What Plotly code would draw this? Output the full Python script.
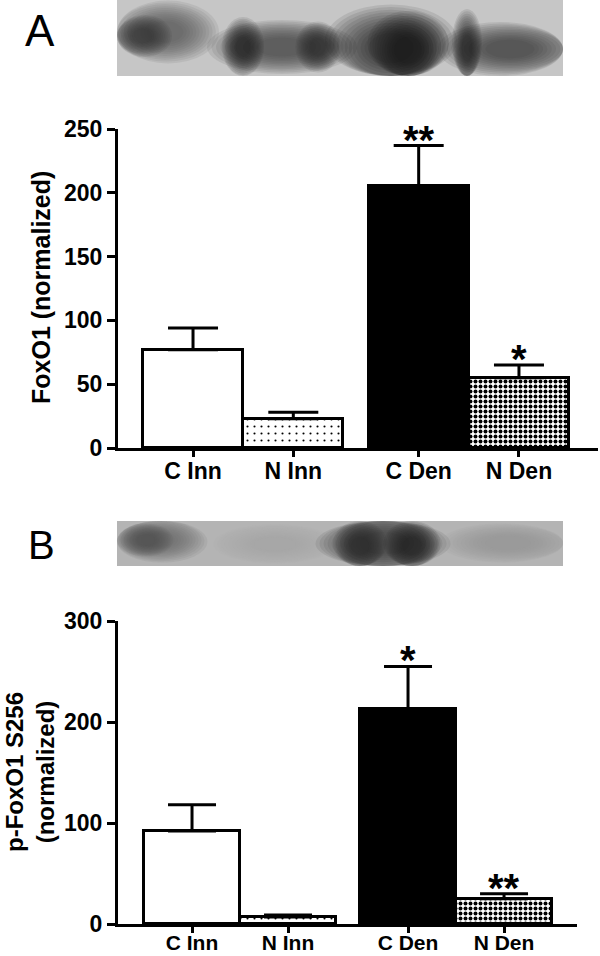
import plotly.graph_objects as go

W, H = 600, 956

categories = ["C Inn", "N Inn", "C Den", "N Den"]
x_pos = [0, 1, 2.25, 3.25]

# panel A: total FoxO1
foxo1_mean = [77, 23, 205, 55]
foxo1_sem = [17, 5, 32, 10]
foxo1_stars = ["", "", "**", "*"]

# panel B: p-FoxO1 S256
pfoxo1_mean = [92, 7, 213, 25]
pfoxo1_sem = [26, 2, 42, 5]
pfoxo1_stars = ["", "", "*", "**"]

FONT = "Liberation Sans, Arial, sans-serif"

# per-group fill: colour, pattern shape, pattern size, solidity
fills = [("white", "", 8, 0.1),
         ("white", ".", 7, 0.07),
         ("black", "", 8, 0.1),
         ("white", ".", 5, 0.5)]


def px(x):
    return x / W


def py(y):
    return 1 - y / H


def blot_shapes(box, bg, bands):
    """fake western blot: grey strip with soft dark bands"""
    x0, y0, x1, y1 = box
    out = [dict(type="rect", xref="paper", yref="paper",
                x0=px(x0), x1=px(x1), y0=py(y1), y1=py(y0),
                fillcolor=bg, line=dict(width=0), layer="above")]
    steps = [1.5 - 0.09 * i for i in range(12)]
    for cx, cy, w, h, col in bands:
        for k in steps:
            out.append(dict(type="circle", xref="paper", yref="paper",
                            x0=px(max(cx - w * k / 2, x0)),
                            x1=px(min(cx + w * k / 2, x1)),
                            y0=py(min(cy + h * k / 2, y1)),
                            y1=py(max(cy - h * k / 2, y0)),
                            fillcolor=col, opacity=0.1,
                            line=dict(width=0), layer="above"))
    return out


bands_a = [
    (165, 32, 72, 42, "#4a4a4a"), (142, 36, 40, 28, "#2e2e2e"),
    (282, 47, 100, 36, "#3a3a3a"), (243, 47, 28, 40, "#1e1e1e"),
    (318, 47, 30, 34, "#262626"),
    (391, 48, 88, 58, "#1e1e1e"), (408, 50, 54, 52, "#111111"),
    (510, 49, 96, 36, "#2e2e2e"), (467, 48, 20, 52, "#1e1e1e"),
]
bands_b = [
    (158, 540, 66, 30, "#606060"), (146, 540, 36, 22, "#505050"),
    (275, 544, 82, 26, "#a2a2a2"),
    (383, 543, 90, 44, "#2e2e2e"), (360, 546, 36, 34, "#242424"),
    (412, 546, 38, 34, "#1e1e1e"),
    (508, 543, 90, 26, "#989898"),
]

fig = go.Figure()

for xa, ya, means, sems, cap in [("x", "y", foxo1_mean, foxo1_sem, 25),
                                 ("x2", "y2", pfoxo1_mean, pfoxo1_sem, 24)]:
    for xi, m, s, (col, shp, sz, sol) in zip(x_pos, means, sems, fills):
        marker = dict(color=col, line=dict(color="black", width=3))
        if shp:
            marker["pattern"] = dict(shape=shp, size=sz, solidity=sol,
                                     fgcolor="black", bgcolor="white",
                                     fillmode="replace")
        fig.add_trace(go.Bar(
            x=[xi], y=[m], width=1.0, marker=marker,
            error_y=dict(type="data", array=[s], arrayminus=[0],
                         symmetric=False, color="black",
                         thickness=3, width=cap),
            xaxis=xa, yaxis=ya, showlegend=False))

axis_common = dict(showline=True, linecolor="black", linewidth=3,
                   ticks="outside", tickcolor="black", tickwidth=3,
                   showgrid=False, zeroline=False, fixedrange=True,
                   automargin=False)

fig.update_layout(
    template="none",
    width=W, height=H,
    margin=dict(l=0, r=0, t=0, b=0, pad=0),
    paper_bgcolor="white", plot_bgcolor="white",
    font=dict(family=FONT, color="black"),
    barmode="overlay", bargap=0,
    xaxis=dict(domain=[px(118), px(598)], range=[-0.748, 4.038],
               tickvals=x_pos, ticktext=categories, ticklen=6,
               ticklabelstandoff=-6,
               tickfont=dict(size=23, weight="bold"),
               anchor="y", **axis_common),
    yaxis=dict(domain=[py(448), py(129)], range=[0, 250], dtick=50,
               ticklen=8, tickfont=dict(size=23, weight="bold"),
               anchor="x", **axis_common),
    xaxis2=dict(domain=[px(118), px(577)], range=[-0.771, 4.01],
                tickvals=x_pos, ticktext=categories, ticklen=6,
                ticklabelstandoff=-8,
                tickfont=dict(size=21, weight="bold"),
                anchor="y2", **axis_common),
    yaxis2=dict(domain=[py(924), py(621)], range=[0, 300], dtick=100,
                ticklen=8, tickfont=dict(size=23, weight="bold"),
                anchor="x2", **axis_common),
)

shapes = blot_shapes((117, 0, 563, 76), "#c6c6c6", bands_a)
shapes += blot_shapes((117, 521, 563, 566), "#b4b4b4", bands_b)
fig.update_layout(shapes=shapes)

ann = [
    dict(text="A", x=px(40), y=py(31), xref="paper", yref="paper",
         xanchor="center", yanchor="middle",
         showarrow=False, font=dict(size=44, family=FONT)),
    dict(text="B", x=px(41), y=py(545), xref="paper", yref="paper",
         xanchor="center", yanchor="middle",
         showarrow=False, font=dict(size=40, family=FONT)),
    dict(text="FoxO1 (normalized)", x=px(41), y=py(288),
         xref="paper", yref="paper", textangle=-90, showarrow=False,
         xanchor="center", yanchor="middle",
         font=dict(size=25, weight="bold", family=FONT)),
    dict(text="p-FoxO1 S256<br>(normalized)", x=px(30), y=py(772),
         xref="paper", yref="paper", textangle=-90, showarrow=False,
         xanchor="center", yanchor="middle",
         font=dict(size=24, weight="bold", family=FONT)),
]
for m, s, st, xa, ya in [(foxo1_mean, foxo1_sem, foxo1_stars, "x", "y"),
                         (pfoxo1_mean, pfoxo1_sem, pfoxo1_stars, "x2", "y2")]:
    for xi, mi, si, t in zip(x_pos, m, s, st):
        if t:
            ann.append(dict(text=t, x=xi, y=mi + si, xref=xa, yref=ya,
                            xanchor="center", yanchor="bottom", yshift=-18,
                            showarrow=False,
                            font=dict(size=40, weight="bold", family=FONT)))
fig.update_layout(annotations=ann)

fig.write_html("out.html", config={"displayModeBar": False},
               post_script="document.body.style.margin='0px';")
